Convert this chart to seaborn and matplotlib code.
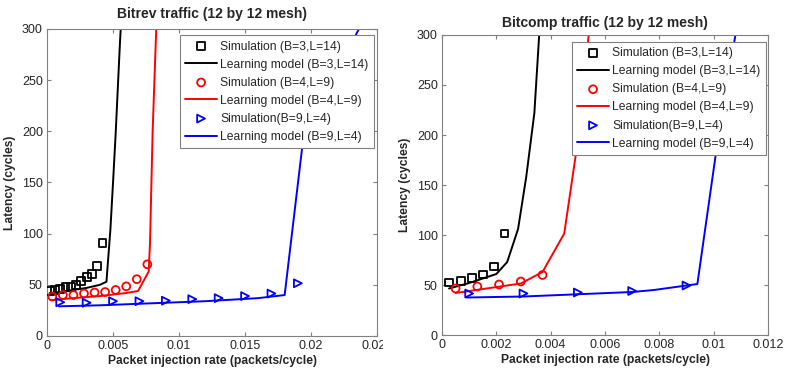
import numpy as np
import pandas as pd
import seaborn as sns
import matplotlib.pyplot as plt
from matplotlib.transforms import Bbox

# ---- Bitrev traffic data ----
br_sim_b3_x = [0.0002, 0.0006, 0.001, 0.0014, 0.0018, 0.0022, 0.0026, 0.003, 0.0034, 0.0038, 0.0042]
br_sim_b3_y = [44, 45, 46, 47.5, 48, 50, 54, 57.5, 61, 68.5, 91]
br_mod_b3_x = [0.0002, 0.001, 0.002, 0.003, 0.004, 0.0045, 0.0048, 0.005, 0.0052, 0.0055, 0.0057]
br_mod_b3_y = [42, 43, 45, 47, 50, 53, 104, 150, 198, 280, 330]
br_sim_b4_x = [0.0004, 0.0012, 0.002, 0.0028, 0.0036, 0.0044, 0.0052, 0.006, 0.0068, 0.0076]
br_sim_b4_y = [38.5, 40, 40, 41.5, 42.5, 43, 45, 48.5, 55.5, 70]
br_mod_b4_x = [0.0003, 0.002, 0.004, 0.006, 0.0069, 0.0077, 0.0078, 0.008, 0.0083]
br_mod_b4_y = [35, 37, 39, 42, 44, 63, 90, 200, 310]
br_sim_b9_x = [0.001, 0.003, 0.005, 0.007, 0.009, 0.011, 0.013, 0.015, 0.017, 0.019]
br_sim_b9_y = [33, 32.5, 34, 34, 34.5, 36, 37, 39, 41.5, 51.5]
br_mod_b9_x = [0.0009, 0.004, 0.008, 0.012, 0.016, 0.018, 0.0194, 0.0237]
br_mod_b9_y = [29, 30, 32, 34, 37, 40, 192, 302]

# ---- Bitcomp traffic data ----
bc_sim_b3_x = [0.00026, 0.0007, 0.0011, 0.0015, 0.0019, 0.0023]
bc_sim_b3_y = [52.5, 54, 57, 60.5, 68.5, 101.5]
bc_mod_b3_x = [0.00026, 0.001, 0.002, 0.0024, 0.0028, 0.0031, 0.0034, 0.0036]
bc_mod_b3_y = [46.5, 52, 61, 73, 106, 158, 222, 310]
bc_sim_b4_x = [0.0005, 0.0013, 0.0021, 0.0029, 0.0037]
bc_sim_b4_y = [46.5, 48.5, 50.5, 53.5, 60]
bc_mod_b4_x = [0.0005, 0.0029, 0.0037, 0.0045, 0.00495, 0.0054]
bc_mod_b4_y = [42, 51.5, 63, 101.5, 185, 300]
bc_sim_b9_x = [0.001, 0.003, 0.005, 0.007, 0.009]
bc_sim_b9_y = [41.5, 41.5, 42.5, 44, 49.5]
bc_mod_b9_x = [0.0009, 0.003, 0.007, 0.0078, 0.0094, 0.0101, 0.0108]
bc_mod_b9_y = [37.5, 38.5, 43, 45, 51, 185, 300]

sim_labels = ["Simulation (B=3,L=14)", "Simulation (B=4,L=9)", "Simulation(B=9,L=4)"]
mod_labels = ["Learning model (B=3,L=14)", "Learning model (B=4,L=9)", "Learning model (B=9,L=4)"]
colors = ["black", "red", "blue"]
markers = ["s", "o", ">"]

sns.set_style("white")
plt.rcParams['font.family'] = ['Liberation Sans', 'DejaVu Sans']

fig = plt.figure(figsize=(7.89, 3.80), dpi=100)
ax1 = fig.add_axes([0.0596, 0.1158, 0.4183, 0.8079])
ax2 = fig.add_axes([0.5602, 0.1184, 0.4132, 0.7895])

panels = [
    (ax1, "Bitrev traffic (12 by 12 mesh)",
     [(br_sim_b3_x, br_sim_b3_y), (br_sim_b4_x, br_sim_b4_y), (br_sim_b9_x, br_sim_b9_y)],
     [(br_mod_b3_x, br_mod_b3_y), (br_mod_b4_x, br_mod_b4_y), (br_mod_b9_x, br_mod_b9_y)],
     0.025, [0, 0.005, 0.01, 0.015, 0.02, 0.025], ["0", "0.005", "0.01", "0.015", "0.02", "0.025"],
     (0.991, 0.980), 8),
    (ax2, "Bitcomp traffic (12 by 12 mesh)",
     [(bc_sim_b3_x, bc_sim_b3_y), (bc_sim_b4_x, bc_sim_b4_y), (bc_sim_b9_x, bc_sim_b9_y)],
     [(bc_mod_b3_x, bc_mod_b3_y), (bc_mod_b4_x, bc_mod_b4_y), (bc_mod_b9_x, bc_mod_b9_y)],
     0.012, [0, 0.002, 0.004, 0.006, 0.008, 0.01, 0.012],
     ["0", "0.002", "0.004", "0.006", "0.008", "0.01", "0.012"],
     (0.994, 0.977), 6),
]

for ax, title, sims, mods, xmax, xt, xtl, anchor, tpad in panels:
    for i in range(3):
        sx, sy = sims[i]
        mx, my = mods[i]
        sns.scatterplot(x=sx, y=sy, ax=ax, marker=markers[i], s=32,
                        facecolor="none", edgecolor=colors[i], linewidth=1.3,
                        label=sim_labels[i], zorder=3)
        sns.lineplot(x=mx, y=my, ax=ax, color=colors[i], linewidth=1.4,
                     sort=False, estimator=None, label=mod_labels[i], zorder=2)
    ax.set_xlim(0, xmax)
    ax.set_ylim(0, 300)
    ax.set_xticks(xt)
    ax.set_xticklabels(xtl)
    ax.set_yticks(range(0, 301, 50))
    ax.tick_params(direction="in", length=3, color="#808080", labelsize=9, pad=3,
                   bottom=True, left=True, top=True, right=True)
    for sp in ax.spines.values():
        sp.set_color("#808080")
        sp.set_linewidth(0.8)
    ax.set_title(title, fontsize=10, fontweight="bold", pad=tpad)
    ax.set_xlabel("Packet injection rate (packets/cycle)", fontsize=8.7, fontweight="bold", labelpad=2)
    ax.set_ylabel("Latency (cycles)", fontsize=8.7, fontweight="bold", labelpad=4)
    handles, labels = ax.get_legend_handles_labels()
    leg = ax.legend(handles, labels, loc="upper right", bbox_to_anchor=anchor,
                    fontsize=8.7, frameon=True, fancybox=False, framealpha=1,
                    edgecolor="#808080", borderpad=0.45, labelspacing=0.5,
                    handlelength=2.6, handletextpad=0.3, borderaxespad=0)
    leg.get_frame().set_linewidth(0.8)

# left panel image is cropped at its right edge in the reference
fig.canvas.draw()
clip = Bbox.from_extents(0, 0, 383, 380)
for lab in ax1.get_xticklabels():
    lab.set_clip_on(True)
    lab.set_clip_box(clip)

fig.savefig("out.png", dpi=100)
